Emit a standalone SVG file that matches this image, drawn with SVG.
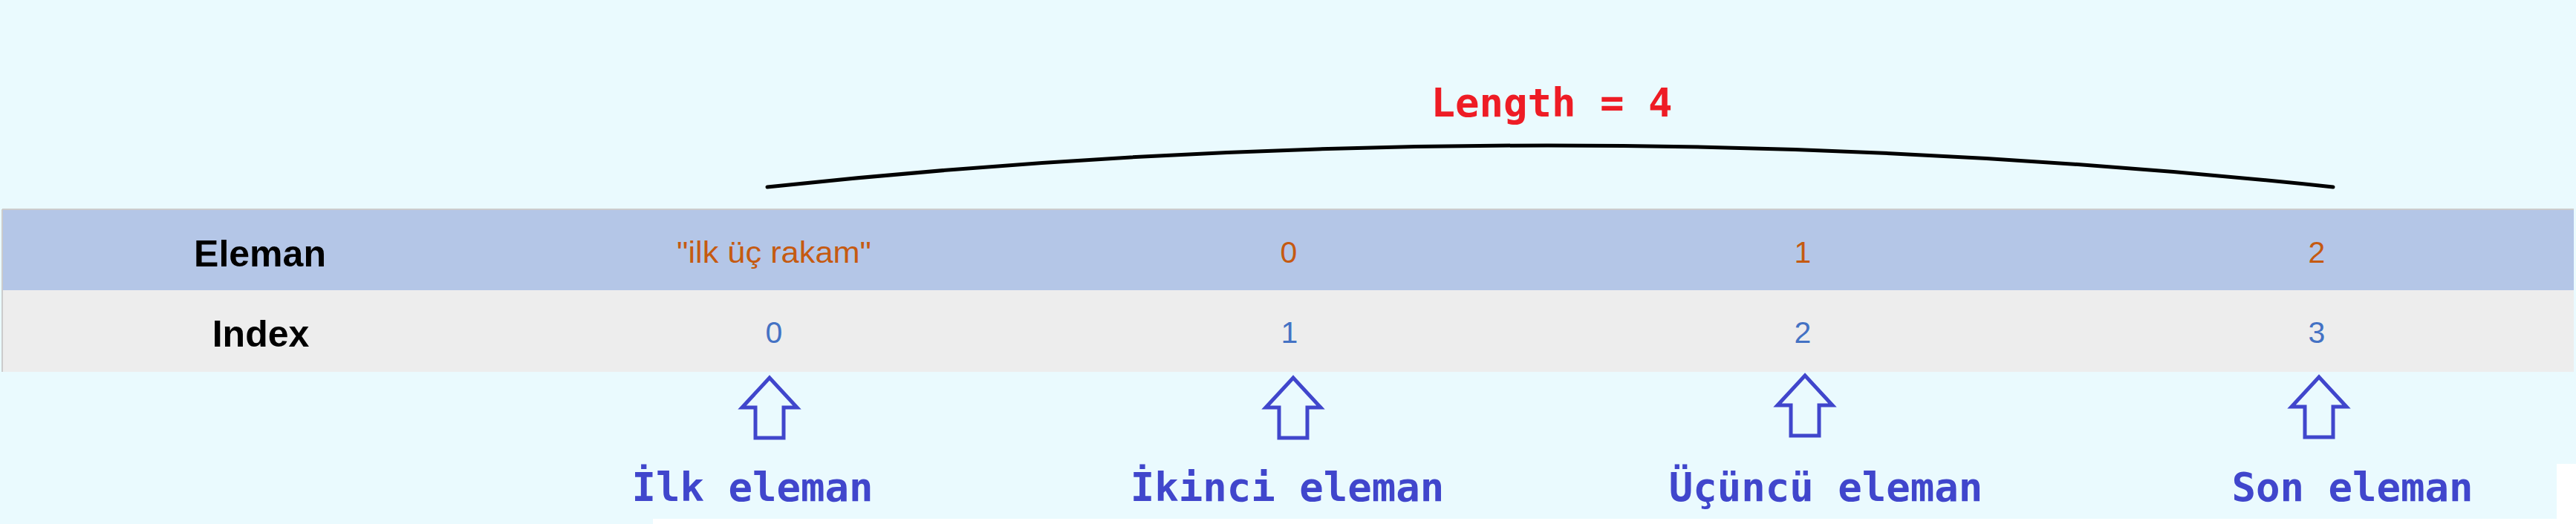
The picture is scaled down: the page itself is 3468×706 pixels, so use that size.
<svg xmlns="http://www.w3.org/2000/svg" width="3468" height="706" viewBox="0 0 3468 706">
<style>
.hdr{font-family:"Liberation Sans",Arial,sans-serif;font-weight:bold;font-size:50px;fill:#000;text-anchor:middle}
.val{font-family:"Liberation Sans",Arial,sans-serif;font-size:41px;fill:#C55A11;text-anchor:middle}
.idx{font-family:"Liberation Sans",Arial,sans-serif;font-size:41px;fill:#4472C4;text-anchor:middle}
.lbl{font-family:"DejaVu Sans Mono","Liberation Mono",monospace;font-weight:bold;font-size:54px;fill:#4046CC;text-anchor:middle}
.len{font-family:"DejaVu Sans Mono","Liberation Mono",monospace;font-weight:bold;font-size:54px;fill:#EE1C25;text-anchor:middle}
.arrow{fill:none;stroke:#4046CC;stroke-width:5;stroke-linejoin:miter}
</style>
<defs>
<path id="uparrow" d="M0,0 L37,40 L19,40 L19,81 L-19,81 L-19,40 L-37,40 Z"/>
</defs>
<rect x="0" y="0" width="3468" height="706" fill="#EAFAFE"/>
<rect x="879" y="699" width="2589" height="7" fill="#FFFFFF"/>
<rect x="3442" y="625" width="26" height="81" fill="#FFFFFF"/>
<g id="table">
<rect x="3" y="282" width="3462" height="109" fill="#B4C6E7"/>
<rect x="3" y="391" width="3462" height="110" fill="#EDEDED"/>
<line x1="3" y1="282" x2="3465" y2="282" stroke="#CCCCCC" stroke-width="2"/>
<line x1="3" y1="282" x2="3" y2="501" stroke="#CCCCCC" stroke-width="2"/>
</g>
<g id="row-eleman">
<text class="hdr" x="350" y="359">Eleman</text>
<text class="val" x="1042" y="354" textLength="262" lengthAdjust="spacingAndGlyphs">"ilk üç rakam"</text>
<text class="val" x="1735" y="354">0</text>
<text class="val" x="2427" y="354">1</text>
<text class="val" x="3119" y="354">2</text>
</g>
<g id="row-index">
<text class="hdr" x="351" y="467">Index</text>
<text class="idx" x="1042" y="462">0</text>
<text class="idx" x="1736" y="462">1</text>
<text class="idx" x="2427" y="462">2</text>
<text class="idx" x="3119" y="462">3</text>
</g>
<g id="length-label">
<text class="len" x="2089" y="157">Length = 4</text>
</g>
<g id="connectors">
<path d="M1033,252 Q2080,140 3141,252" fill="none" stroke="#000" stroke-width="5" stroke-linecap="round"/>
<use href="#uparrow" class="arrow" x="1036" y="509"/>
<use href="#uparrow" class="arrow" x="1741" y="509"/>
<use href="#uparrow" class="arrow" x="2430" y="506"/>
<use href="#uparrow" class="arrow" x="3122" y="508"/>
</g>
<g id="label-ilk"><text class="lbl" x="1013" y="675">İlk eleman</text></g>
<g id="label-ikinci"><text class="lbl" x="1733" y="675">İkinci eleman</text></g>
<g id="label-ucuncu"><text class="lbl" x="2458" y="675">Üçüncü eleman</text></g>
<g id="label-son"><text class="lbl" x="3167" y="675">Son eleman</text></g>
</svg>
